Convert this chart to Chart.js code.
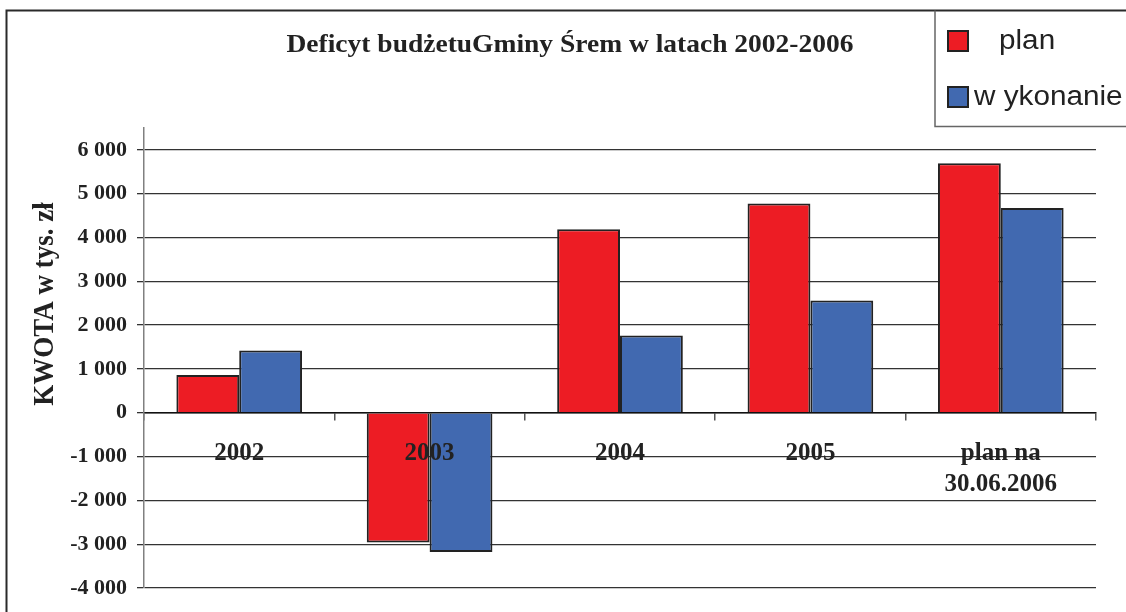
<!DOCTYPE html>
<html>
<head>
<meta charset="utf-8">
<script src="https://cdn.jsdelivr.net/npm/chart.js@4/dist/chart.umd.min.js"></script>
<style>
  html, body { margin: 0; padding: 0; background: #fff; }
  #wrap { width: 1126px; height: 612px; }
</style>
</head>
<body>
<div id="wrap"><canvas id="c" width="1126" height="612"></canvas></div>
<script>
// ---- data ----
const categories = ['2002', '2003', '2004', '2005', ['plan na', '30.06.2006']];
const planValues = [860, -2960, 4190, 4775, 5695];
const wykonanieValues = [1420, -3180, 1765, 2560, 4675];
const seriesLabels = ['plan', 'w ykonanie'];
const yTicks = [-4000, -3000, -2000, -1000, 0, 1000, 2000, 3000, 4000, 5000, 6000];
const chartTitle = 'Deficyt budżetuGminy Śrem w latach 2002-2006';
const yAxisTitle = 'KWOTA w tys. zł';

const RED = '#ED1C24';
const BLUE = '#4169B0';
const SERIF = '"Liberation Serif", "Times New Roman", serif';
const SANS = '"Liberation Sans", Arial, sans-serif';

function fmt(v) {
  const s = Math.abs(v).toString();
  const parts = s.replace(/\B(?=(\d{3})+(?!\d))/g, ' ');
  return (v < 0 ? '-' : '') + parts;
}

const decor = {
  id: 'decor',
  afterDraw(chart) {
    const ctx = chart.ctx;
    ctx.save();
    // outer frame (top & left)
    ctx.strokeStyle = '#2a2a2a';
    ctx.lineWidth = 2;
    ctx.beginPath();
    ctx.moveTo(6.5, 612);
    ctx.lineTo(6.5, 10.5);
    ctx.lineTo(1126, 10.5);
    ctx.stroke();
    // legend box
    ctx.strokeStyle = '#666';
    ctx.lineWidth = 1.5;
    ctx.beginPath();
    ctx.moveTo(935, 10.5);
    ctx.lineTo(935, 126.5);
    ctx.lineTo(1126, 126.5);
    ctx.stroke();
    // title
    ctx.fillStyle = '#222';
    ctx.font = 'bold 25px ' + SERIF;
    ctx.textAlign = 'center';
    ctx.textBaseline = 'middle';
    ctx.save();
    ctx.translate(570, 46);
    ctx.scale(1.1, 1);
    ctx.fillText(chartTitle, 0, 0);
    ctx.restore();
    // y axis title
    ctx.save();
    ctx.translate(45, 304);
    ctx.rotate(-Math.PI / 2);
    ctx.scale(1, 1.12);
    ctx.font = 'bold 27px ' + SERIF;
    ctx.fillText(yAxisTitle, 0, 0);
    ctx.restore();
    // legend items
    const items = chart.data.datasets;
    const boxY = [31, 87];
    const textX = [999, 974];
    items.forEach((ds, i) => {
      ctx.fillStyle = ds.backgroundColor;
      ctx.fillRect(948, boxY[i], 20, 20);
      ctx.strokeStyle = '#222';
      ctx.lineWidth = 2;
      ctx.strokeRect(948, boxY[i], 20, 20);
      ctx.fillStyle = '#222';
      ctx.font = '27px ' + SANS;
      ctx.textAlign = 'left';
      ctx.textBaseline = 'middle';
      ctx.save();
      ctx.translate(textX[i], boxY[i] + 11);
      ctx.scale(1.1, 1);
      ctx.fillText(ds.label, 0, 0);
      ctx.restore();
    });
    ctx.restore();
  }
};

new Chart(document.getElementById('c'), {
  type: 'bar',
  data: {
    labels: categories,
    datasets: [
      { label: seriesLabels[0], data: planValues, backgroundColor: RED, borderColor: '#222', borderWidth: 2 },
      { label: seriesLabels[1], data: wykonanieValues, backgroundColor: BLUE, borderColor: '#222', borderWidth: 2 }
    ]
  },
  options: {
    responsive: false,
    animation: false,
    devicePixelRatio: 1,
    layout: { padding: { left: 7, right: 30, top: 128, bottom: 24 } },
    plugins: { legend: { display: false }, title: { display: false }, tooltip: { enabled: false } },
    datasets: { bar: { categoryPercentage: 0.66, barPercentage: 1.0 } },
    scales: {
      x: {
        position: { y: 0 },
        grid: { display: true, drawOnChartArea: false, drawTicks: true, tickLength: 7, color: '#555', lineWidth: 1.5, offset: true },
        border: { display: true, color: '#111', width: 1.5 },
        ticks: {
          z: 1,
          color: '#222',
          padding: 18,
          maxRotation: 0,
          autoSkip: false,
          font: { family: SERIF, size: 25, weight: 'bold', lineHeight: 1.25 }
        }
      },
      y: {
        min: -4000,
        max: 6500,
        afterFit(s) { s.width = 137; },
        afterBuildTicks(axis) { axis.ticks = yTicks.map(v => ({ value: v })); },
        grid: { color: '#333', lineWidth: 1.3, tickLength: 7, drawTicks: true },
        border: { display: true, color: '#808080', width: 1.5 },
        ticks: {
          color: '#222',
          padding: 10,
          font: { family: SERIF, size: 22, weight: 'bold' },
          callback: (v) => fmt(v)
        }
      }
    }
  },
  plugins: [decor]
});
</script>
</body>
</html>
